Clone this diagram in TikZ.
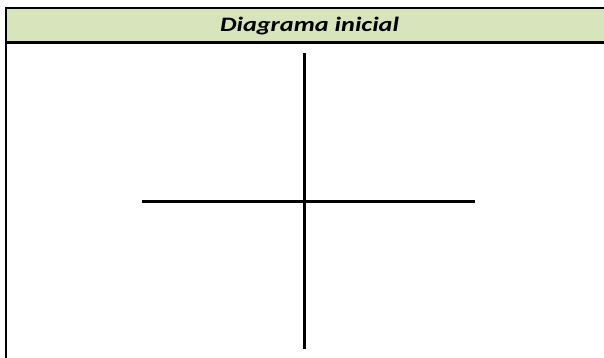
\documentclass[tikz,border=0pt]{standalone}
\usepackage{fontspec}
\setmainfont{Carlito}
\definecolor{headgreen}{HTML}{D8E4BC}
\begin{document}
\begin{tikzpicture}[x=1pt,y=1pt,
  tableline/.style={line width=2.5pt, black},
  crossline/.style={line width=3pt, black},
  headtext/.style={font=\bfseries\itshape\fontsize{20.5}{25}\selectfont, anchor=base, inner sep=0pt}]
\useasboundingbox (0,0) rectangle (604,358);
% header band
\fill[headgreen] (6,350) rectangle (604,315.5);
\draw[tableline] (604,350) -- (6,350) -- (6,0);
\draw[tableline] (6,315.5) -- (604,315.5);
\node[headtext] (title) at (309.5,326) {\scalebox{1.28}[1]{Diagrama inicial}};
% cross
\coordinate (top) at (304,305);
\coordinate (bottom) at (304,9);
\coordinate (left) at (142,156);
\coordinate (right) at (475,156);
\draw[crossline] (top) -- (bottom);
\draw[crossline] (left) -- (right);
\end{tikzpicture}
\end{document}
